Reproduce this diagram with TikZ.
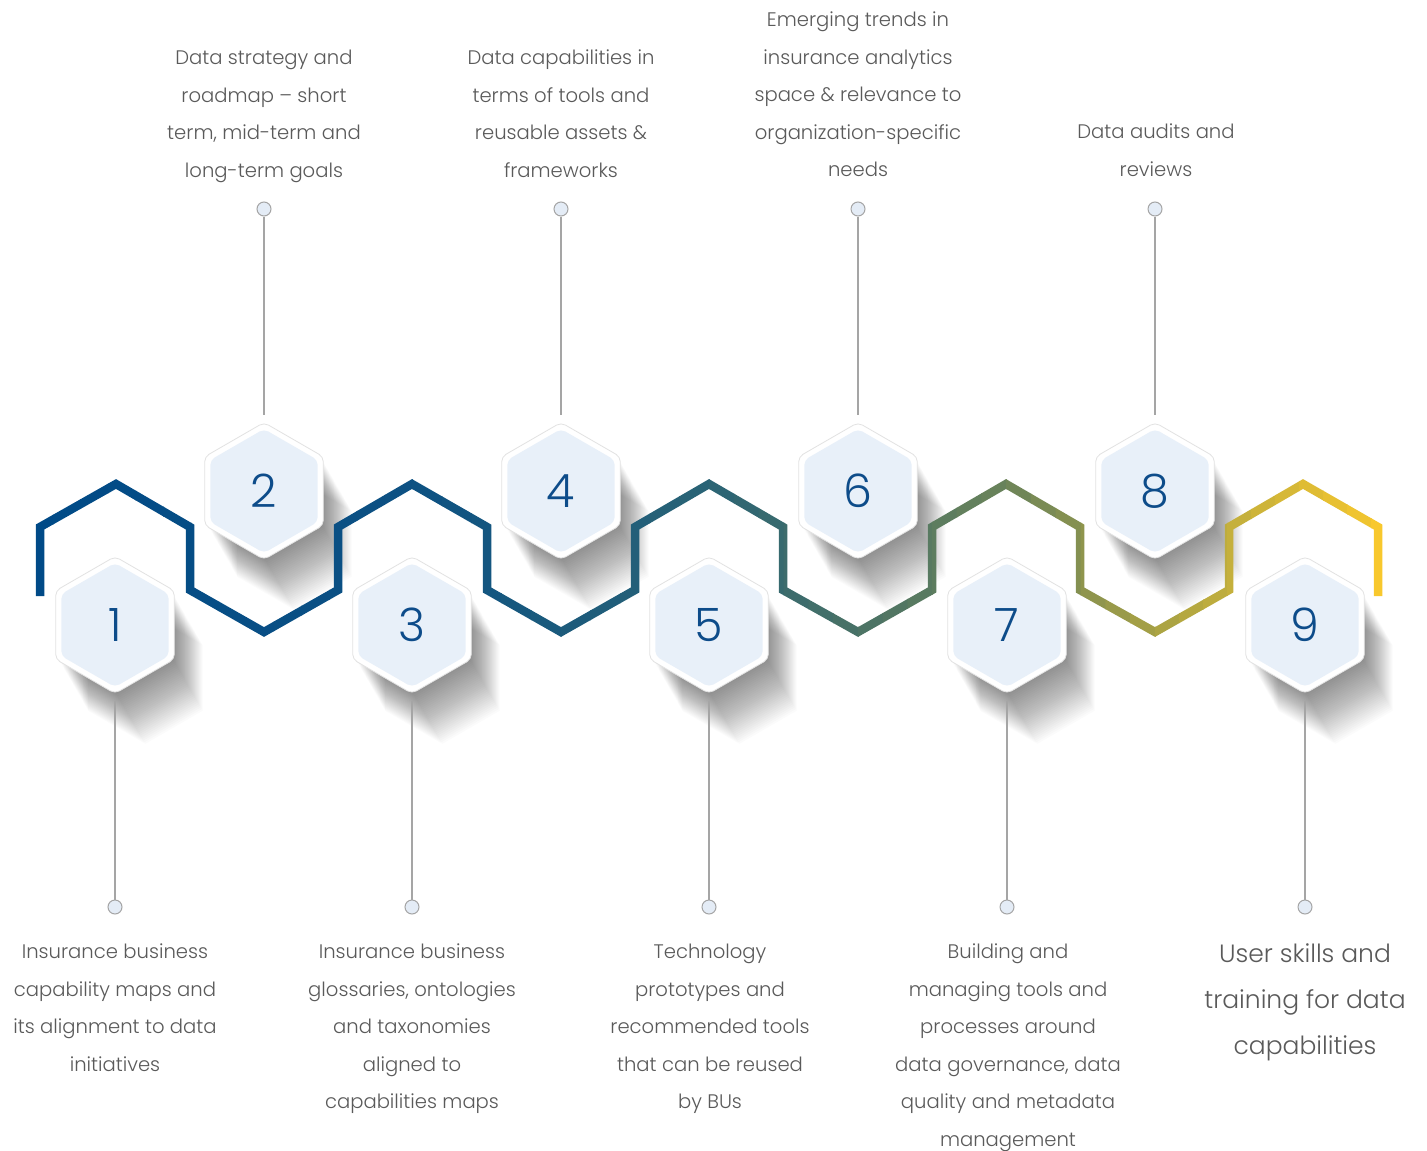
\documentclass[tikz,border=0pt]{standalone}
\usepackage{fontspec}
\IfFontExistsTF{Poppins Light}{\setmainfont{Poppins Light}}{\setmainfont{Poppins}}
\usetikzlibrary{shapes.geometric,calc}
\definecolor{txtgray}{HTML}{5A5A5A}
\definecolor{numblue}{HTML}{0D4C8A}
\definecolor{hexfill}{HTML}{E8F0F9}
\definecolor{hexline}{HTML}{E2E2E2}
\definecolor{dotfill}{HTML}{E4ECF6}
\definecolor{connc}{HTML}{A5A5A5}
\definecolor{g0}{HTML}{004A87}
\definecolor{g1}{HTML}{0D5183}
\definecolor{g2}{HTML}{2A6475}
\definecolor{g3}{HTML}{4A7266}
\definecolor{g4}{HTML}{6B845A}
\definecolor{g5}{HTML}{A8A244}
\definecolor{g6}{HTML}{FCCA2C}
\newcommand\zigpath{(40,596) -- (40,527) -- (116,484) -- (190,527) -- (190,590) -- (264,632) -- (338,590) -- (338,527) -- (412,484) -- (487,527) -- (487,590) -- (561,632) -- (635,590) -- (635,527) -- (709,484) -- (783,527) -- (783,590) -- (858,632) -- (932,590) -- (932,527) -- (1006,484) -- (1080,527) -- (1080,590) -- (1155,632) -- (1229,590) -- (1229,527) -- (1303,484) -- (1378,527) -- (1378,596)}
\newcommand\gradseg[5]{%
  \foreach \k in {1,...,#5}{%
    \pgfmathsetmacro\xl{#1+(#2-#1)*(\k-1)/#5}%
    \pgfmathsetmacro\xr{#1+(#2-#1)*\k/#5+0.8}%
    \pgfmathsetmacro\pp{100-100*(\k-0.5)/#5}%
    \begin{scope}
      \clip (\xl,400) rectangle (\xr,700);
      \draw[zig, draw=#3!\pp!#4] \zigpath;
    \end{scope}
  }}
\newcommand\hexshadow[2]{%
  \foreach \i in {1,...,32}{%
    \fill[black,opacity=0.014] ($(#1,#2)+(0.95*\i,1.65*\i)$) +(90:66) -- +(30:66) -- +(-30:66) -- +(-90:66) -- +(-150:66) -- +(150:66) -- cycle;
  }}
\tikzset{
  zig/.style={line width=8.5pt, line join=miter, miter limit=10},
  hexo/.style={regular polygon, regular polygon sides=6, shape border rotate=30,
    minimum size=137pt, inner sep=0pt, outer sep=0pt, fill=white, draw=hexline,
    line width=0.8pt, rounded corners=5pt},
  hexi/.style={regular polygon, regular polygon sides=6, shape border rotate=30,
    minimum size=124pt, inner sep=0pt, outer sep=0pt, fill=hexfill,
    rounded corners=5pt, text=numblue, font=\fontsize{46}{46}\selectfont},
  dot/.style={circle, minimum size=14pt, inner sep=0pt, fill=dotfill, draw=connc, line width=1pt},
  conn/.style={draw=connc, line width=1.1pt},
  txt/.style={align=center, inner sep=0pt, text=txtgray, font=\fontsize{19.6}{37.5}\selectfont},
  txtbig/.style={align=center, inner sep=0pt, text=txtgray, font=\fontsize{25}{46}\selectfont}
}
\begin{document}
\begin{tikzpicture}[x=1pt,y=-1pt]
\useasboundingbox[fill=white] (0,0) rectangle (1427,1151);
% shadows
\hexshadow{115}{625}
\hexshadow{264}{491}
\hexshadow{412}{625}
\hexshadow{561}{491}
\hexshadow{709}{625}
\hexshadow{858}{491}
\hexshadow{1007}{625}
\hexshadow{1155}{491}
\hexshadow{1305}{625}
% gradient zigzag
\gradseg{25}{412}{g0}{g1}{14}
\gradseg{412}{709}{g1}{g2}{10}
\gradseg{709}{858}{g2}{g3}{6}
\gradseg{858}{1006}{g3}{g4}{6}
\gradseg{1006}{1155}{g4}{g5}{6}
\gradseg{1155}{1395}{g5}{g6}{10}
% hexagons
\foreach \n/\x/\y in {1/115/625,2/264/491,3/412/625,4/561/491,5/709/625,6/858/491,7/1007/625,8/1155/491,9/1305/625}{
  \node[hexo] (h\n) at (\x,\y) {};
  \node[hexi] (hi\n) at (\x,\y) {\n};
}
% dots
\foreach \n/\x in {2/264,4/561,6/858,8/1155}{
  \node[dot] (c\n) at (\x,209) {};
  \draw[conn] (c\n) -- ([yshift=8pt]h\n.north);
}
\foreach \n/\x in {1/115,3/412,5/709,7/1007,9/1305}{
  \node[dot] (c\n) at (\x,907) {};
  \draw[conn] ([yshift=-7pt]h\n.south) -- (c\n);
}
% texts
\node[txt, anchor=north] (t2) at (264,50) {Data strategy and\\roadmap -- short\\term, mid-term and\\long-term goals};
\node[txt, anchor=north] (t4) at (561,50) {Data capabilities in\\terms of tools and\\reusable assets \&\\frameworks};
\node[txt, anchor=north] (t6) at (858,12) {Emerging trends in\\insurance analytics\\space \& relevance to\\organization-specific\\needs};
\node[txt, anchor=north] (t8) at (1156,124) {Data audits and\\reviews};
\node[txt, anchor=north] (t1) at (115,944) {Insurance business\\capability maps and\\its alignment to data\\initiatives};
\node[txt, anchor=north] (t3) at (412,944) {Insurance business\\glossaries, ontologies\\and taxonomies\\aligned to\\capabilities maps};
\node[txt, anchor=north] (t5) at (710,944) {Technology\\prototypes and\\recommended tools\\that can be reused\\by BUs};
\node[txt, anchor=north] (t7) at (1008,944) {Building and\\managing tools and\\processes around\\data governance, data\\quality and metadata\\management};
\node[txtbig, anchor=north] (t9) at (1305,943) {User skills and\\training for data\\capabilities};
\end{tikzpicture}
\end{document}
